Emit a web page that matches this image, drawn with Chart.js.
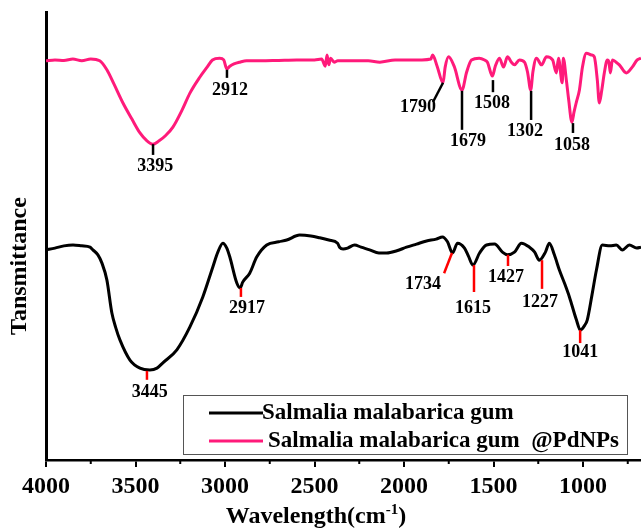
<!DOCTYPE html>
<html><head><meta charset="utf-8">
<script src="https://cdn.jsdelivr.net/npm/chart.js@4"></script>
<style>html,body{margin:0;padding:0;background:#fff;}</style>
</head><body>
<canvas id="c" width="641" height="528"></canvas>
<script>
const FONT = "'Liberation Serif','Times New Roman',serif";

// ---- Data (transmittance, arbitrary % scale) ----
const seriesNames = ['Salmalia malabarica gum', 'Salmalia malabarica gum  @PdNPs'];

const gumWavenumber = [4000,3950,3900,3849,3800,3754,3738,3710,3688,3660,3632,3610,3587,3531,3475,3420,3380,3347,3269,3196,3124,3068,3040,3012,2990,2973,2934,2915,2901,2862,2823,2767,2700,2655,2583,2520,2471,2420,2371,2360,2340,2315,2276,2240,2192,2140,2097,2040,1986,1930,1874,1820,1785,1757,1729,1701,1662,1640,1615,1578,1539,1494,1450,1422,1383,1344,1299,1270,1244,1210,1188,1160,1132,1100,1076,1037,1015,990,976,950,925,892,850,814,780,741,700,676];
const gumTransmittance = [46.9,47.3,47.8,48.0,47.8,47.5,46.9,45.8,44.0,40.2,32.8,29.5,26.8,22.3,20.5,20.1,20.5,21.7,24.6,29.7,36.4,43.1,46.4,48.4,47.3,45.3,39.5,38.4,39.7,41.7,45.3,48.0,48.7,49.1,50.2,50.0,49.6,49.1,48.4,47.5,47.1,47.3,48.0,47.5,46.9,46.2,46.2,46.7,47.5,48.2,48.9,49.3,49.8,48.7,46.2,48.4,47.3,45.5,43.5,46.2,48.0,48.2,46.4,45.8,46.4,48.4,47.5,46.4,44.6,46.4,48.4,45.8,42.4,39.1,36.4,31.3,29.0,30.1,31.3,36.8,42.4,48.0,47.8,48.0,46.9,48.0,47.3,47.5];

const pdWavenumber = [4000,3950,3900,3850,3800,3750,3700,3660,3620,3570,3520,3475,3440,3403,3370,3330,3291,3240,3196,3140,3100,3070,3030,3007,2990,2973,2950,2917,2880,2800,2700,2600,2500,2460,2440,2430,2420,2410,2390,2370,2300,2200,2135,2050,1900,1850,1840,1815,1782,1770,1751,1720,1676,1650,1623,1580,1550,1534,1506,1490,1467,1444,1422,1400,1383,1355,1327,1310,1292,1280,1260,1232,1204,1170,1149,1137,1116,1110,1093,1080,1062,1050,1037,1020,1003,981,953,937,920,909,895,881,864,855,847,836,815,797,758,725,697,676];
const pdTransmittance = [89.1,89.3,89.2,89.5,89.1,89.5,89.1,87.1,83.9,79.7,76.1,73.0,71.4,70.5,71.2,72.5,74.3,78.1,81.9,85.5,87.7,89.3,89.7,89.3,87.3,87.9,88.4,88.8,89.1,89.1,89.2,89.3,89.3,89.5,87.9,90.4,88.2,89.7,88.8,89.1,89.1,89.1,88.8,89.3,89.3,89.5,90.4,87.9,84.2,87.7,90.0,87.9,82.6,86.6,89.3,89.7,89.3,88.8,85.7,87.9,89.7,87.7,90.0,88.8,88.2,89.3,88.8,86.6,82.6,86.6,89.7,88.2,90.0,89.3,86.4,89.7,84.2,89.7,84.8,80.4,75.4,77.7,79.9,82.6,87.7,90.8,90.4,90.0,84.8,79.7,82.6,86.4,89.3,88.8,86.4,89.3,88.8,88.2,86.4,87.7,89.3,89.7];

// Peak annotations (wavenumber / transmittance of marker ends and label centres)
const gumPeakLabels = ['3445','2917','1734','1615','1427','1227','1041'];
const gumMarkWnA = [3436,2911,1732,1609,1419,1229,1016];
const gumMarkTA  = [19.9,38.4,46.2,43.5,45.8,44.6,29.0];
const gumMarkWnB = [3436,2911,1776,1609,1419,1229,1016];
const gumMarkTB  = [17.9,36.4,41.7,37.5,43.3,38.2,26.1];
const gumLabelWn = [3420,2877,1894,1614,1430,1240,1016];
const gumLabelT  = [15.2,33.9,39.1,33.9,40.8,35.3,24.1];

const pdPeakLabels = ['3395','2912','1790','1679','1508','1302','1058'];
const pdMarkWnA = [3402,2989,1782,1676,1503,1290,1056];
const pdMarkTA  = [70.5,87.1,84.2,82.4,84.8,82.4,75.2];
const pdMarkWnB = [3402,2989,1838,1676,1503,1290,1056];
const pdMarkTB  = [68.1,85.3,79.9,73.7,82.1,75.9,73.0];
const pdLabelWn = [3390,2972,1922,1642,1508,1324,1061];
const pdLabelT  = [65.6,82.6,78.8,71.2,79.7,73.4,70.3];

const xMajorTicks = [4000,3500,3000,2500,2000,1500,1000];
const xMinorTicks = [3750,3250,2750,2250,1750,1250,750];

const toPts = (xs, ys) => xs.map((v, i) => ({x: v, y: ys[i]}));

const deco = {
  id: 'deco',
  afterDraw(chart) {
    const {ctx, chartArea, scales: {x, y}} = chart;
    ctx.save();
    // minor ticks
    ctx.strokeStyle = '#000'; ctx.lineWidth = 2;
    xMinorTicks.forEach(v => {
      const px = x.getPixelForValue(v);
      ctx.beginPath(); ctx.moveTo(px, chartArea.bottom); ctx.lineTo(px, chartArea.bottom + 4); ctx.stroke();
    });
    // peak markers
    const drawSet = (labels, wa, ta, wb, tb, lw, lt, lineColor) => {
      ctx.strokeStyle = lineColor; ctx.lineWidth = 2.5;
      labels.forEach((lab, i) => {
        ctx.beginPath();
        ctx.moveTo(x.getPixelForValue(wa[i]), y.getPixelForValue(ta[i]));
        ctx.lineTo(x.getPixelForValue(wb[i]), y.getPixelForValue(tb[i]));
        ctx.stroke();
      });
      ctx.fillStyle = '#000';
      ctx.font = 'bold 18px ' + FONT;
      ctx.textAlign = 'center'; ctx.textBaseline = 'middle';
      labels.forEach((lab, i) => {
        ctx.fillText(lab, x.getPixelForValue(lw[i]), y.getPixelForValue(lt[i]));
      });
    };
    drawSet(pdPeakLabels, pdMarkWnA, pdMarkTA, pdMarkWnB, pdMarkTB, pdLabelWn, pdLabelT, '#000');
    drawSet(gumPeakLabels, gumMarkWnA, gumMarkTA, gumMarkWnB, gumMarkTB, gumLabelWn, gumLabelT, '#ff0000');

    // legend
    ctx.fillStyle = '#fff';
    ctx.fillRect(183, 395, 444, 60);
    ctx.strokeStyle = '#555'; ctx.lineWidth = 1;
    ctx.strokeRect(183.5, 395.5, 444, 59);
    const rows = [413, 441];
    const textX = [262, 268];
    chart.data.datasets.forEach((ds, i) => {
      ctx.strokeStyle = ds.borderColor; ctx.lineWidth = 3;
      ctx.beginPath(); ctx.moveTo(209, rows[i]); ctx.lineTo(263, rows[i]); ctx.stroke();
      ctx.fillStyle = '#000';
      ctx.font = 'bold 23px ' + FONT;
      ctx.textAlign = 'left'; ctx.textBaseline = 'middle';
      ctx.fillText(ds.label, textX[i], rows[i]);
    });

    // y title
    ctx.save();
    ctx.translate(20, 266);
    ctx.rotate(-Math.PI / 2);
    ctx.font = 'bold 24px ' + FONT;
    ctx.textAlign = 'center'; ctx.textBaseline = 'middle';
    ctx.fillStyle = '#000';
    ctx.fillText('Tansmittance', 0, 0);
    ctx.restore();

    // x title with superscript
    ctx.font = 'bold 24px ' + FONT;
    const main = 'Wavelength(cm';
    const sup = '-1';
    const close = ')';
    const wMain = ctx.measureText(main).width;
    const wClose = ctx.measureText(close).width;
    ctx.font = 'bold 15px ' + FONT;
    const wSup = ctx.measureText(sup).width;
    const total = wMain + wSup + wClose;
    let sx = 316 - total / 2;
    const by = 523;
    ctx.textAlign = 'left'; ctx.textBaseline = 'alphabetic';
    ctx.fillStyle = '#000';
    ctx.font = 'bold 24px ' + FONT;
    ctx.fillText(main, sx, by);
    ctx.font = 'bold 15px ' + FONT;
    ctx.fillText(sup, sx + wMain, by - 9);
    ctx.font = 'bold 24px ' + FONT;
    ctx.fillText(close, sx + wMain + wSup, by);
    ctx.restore();
  }
};

new Chart(document.getElementById('c'), {
  type: 'line',
  data: {
    datasets: [
      {label: seriesNames[0], data: toPts(gumWavenumber, gumTransmittance), borderColor: '#000000', borderWidth: 3, pointRadius: 0, cubicInterpolationMode: 'monotone', fill: false},
      {label: seriesNames[1], data: toPts(pdWavenumber, pdTransmittance), borderColor: '#ff1a7a', borderWidth: 3, pointRadius: 0, cubicInterpolationMode: 'monotone', fill: false}
    ]
  },
  options: {
    responsive: false,
    animation: false,
    devicePixelRatio: 1,
    layout: {padding: {top: 12, left: 0, right: 0, bottom: 0}},
    plugins: {legend: {display: false}, tooltip: {enabled: false}},
    scales: {
      x: {
        type: 'linear', reverse: true, min: 676, max: 4000,
        afterBuildTicks: s => { s.ticks = xMajorTicks.map(v => ({value: v})); },
        afterFit: s => { s.height = 68; },
        grid: {drawOnChartArea: false, drawTicks: true, tickLength: 7, lineWidth: 2, color: '#000'},
        border: {display: true, color: '#000', width: 2.5},
        ticks: {color: '#000', font: {family: FONT, size: 24, weight: 'bold'}, padding: 5, maxRotation: 0, autoSkip: false,
                callback: v => String(v)}
      },
      y: {
        min: 0, max: 100,
        afterFit: s => { s.width = 46; },
        grid: {display: false},
        ticks: {display: false},
        border: {display: true, color: '#000', width: 3}
      }
    }
  },
  plugins: [deco]
});
</script>
</body></html>
